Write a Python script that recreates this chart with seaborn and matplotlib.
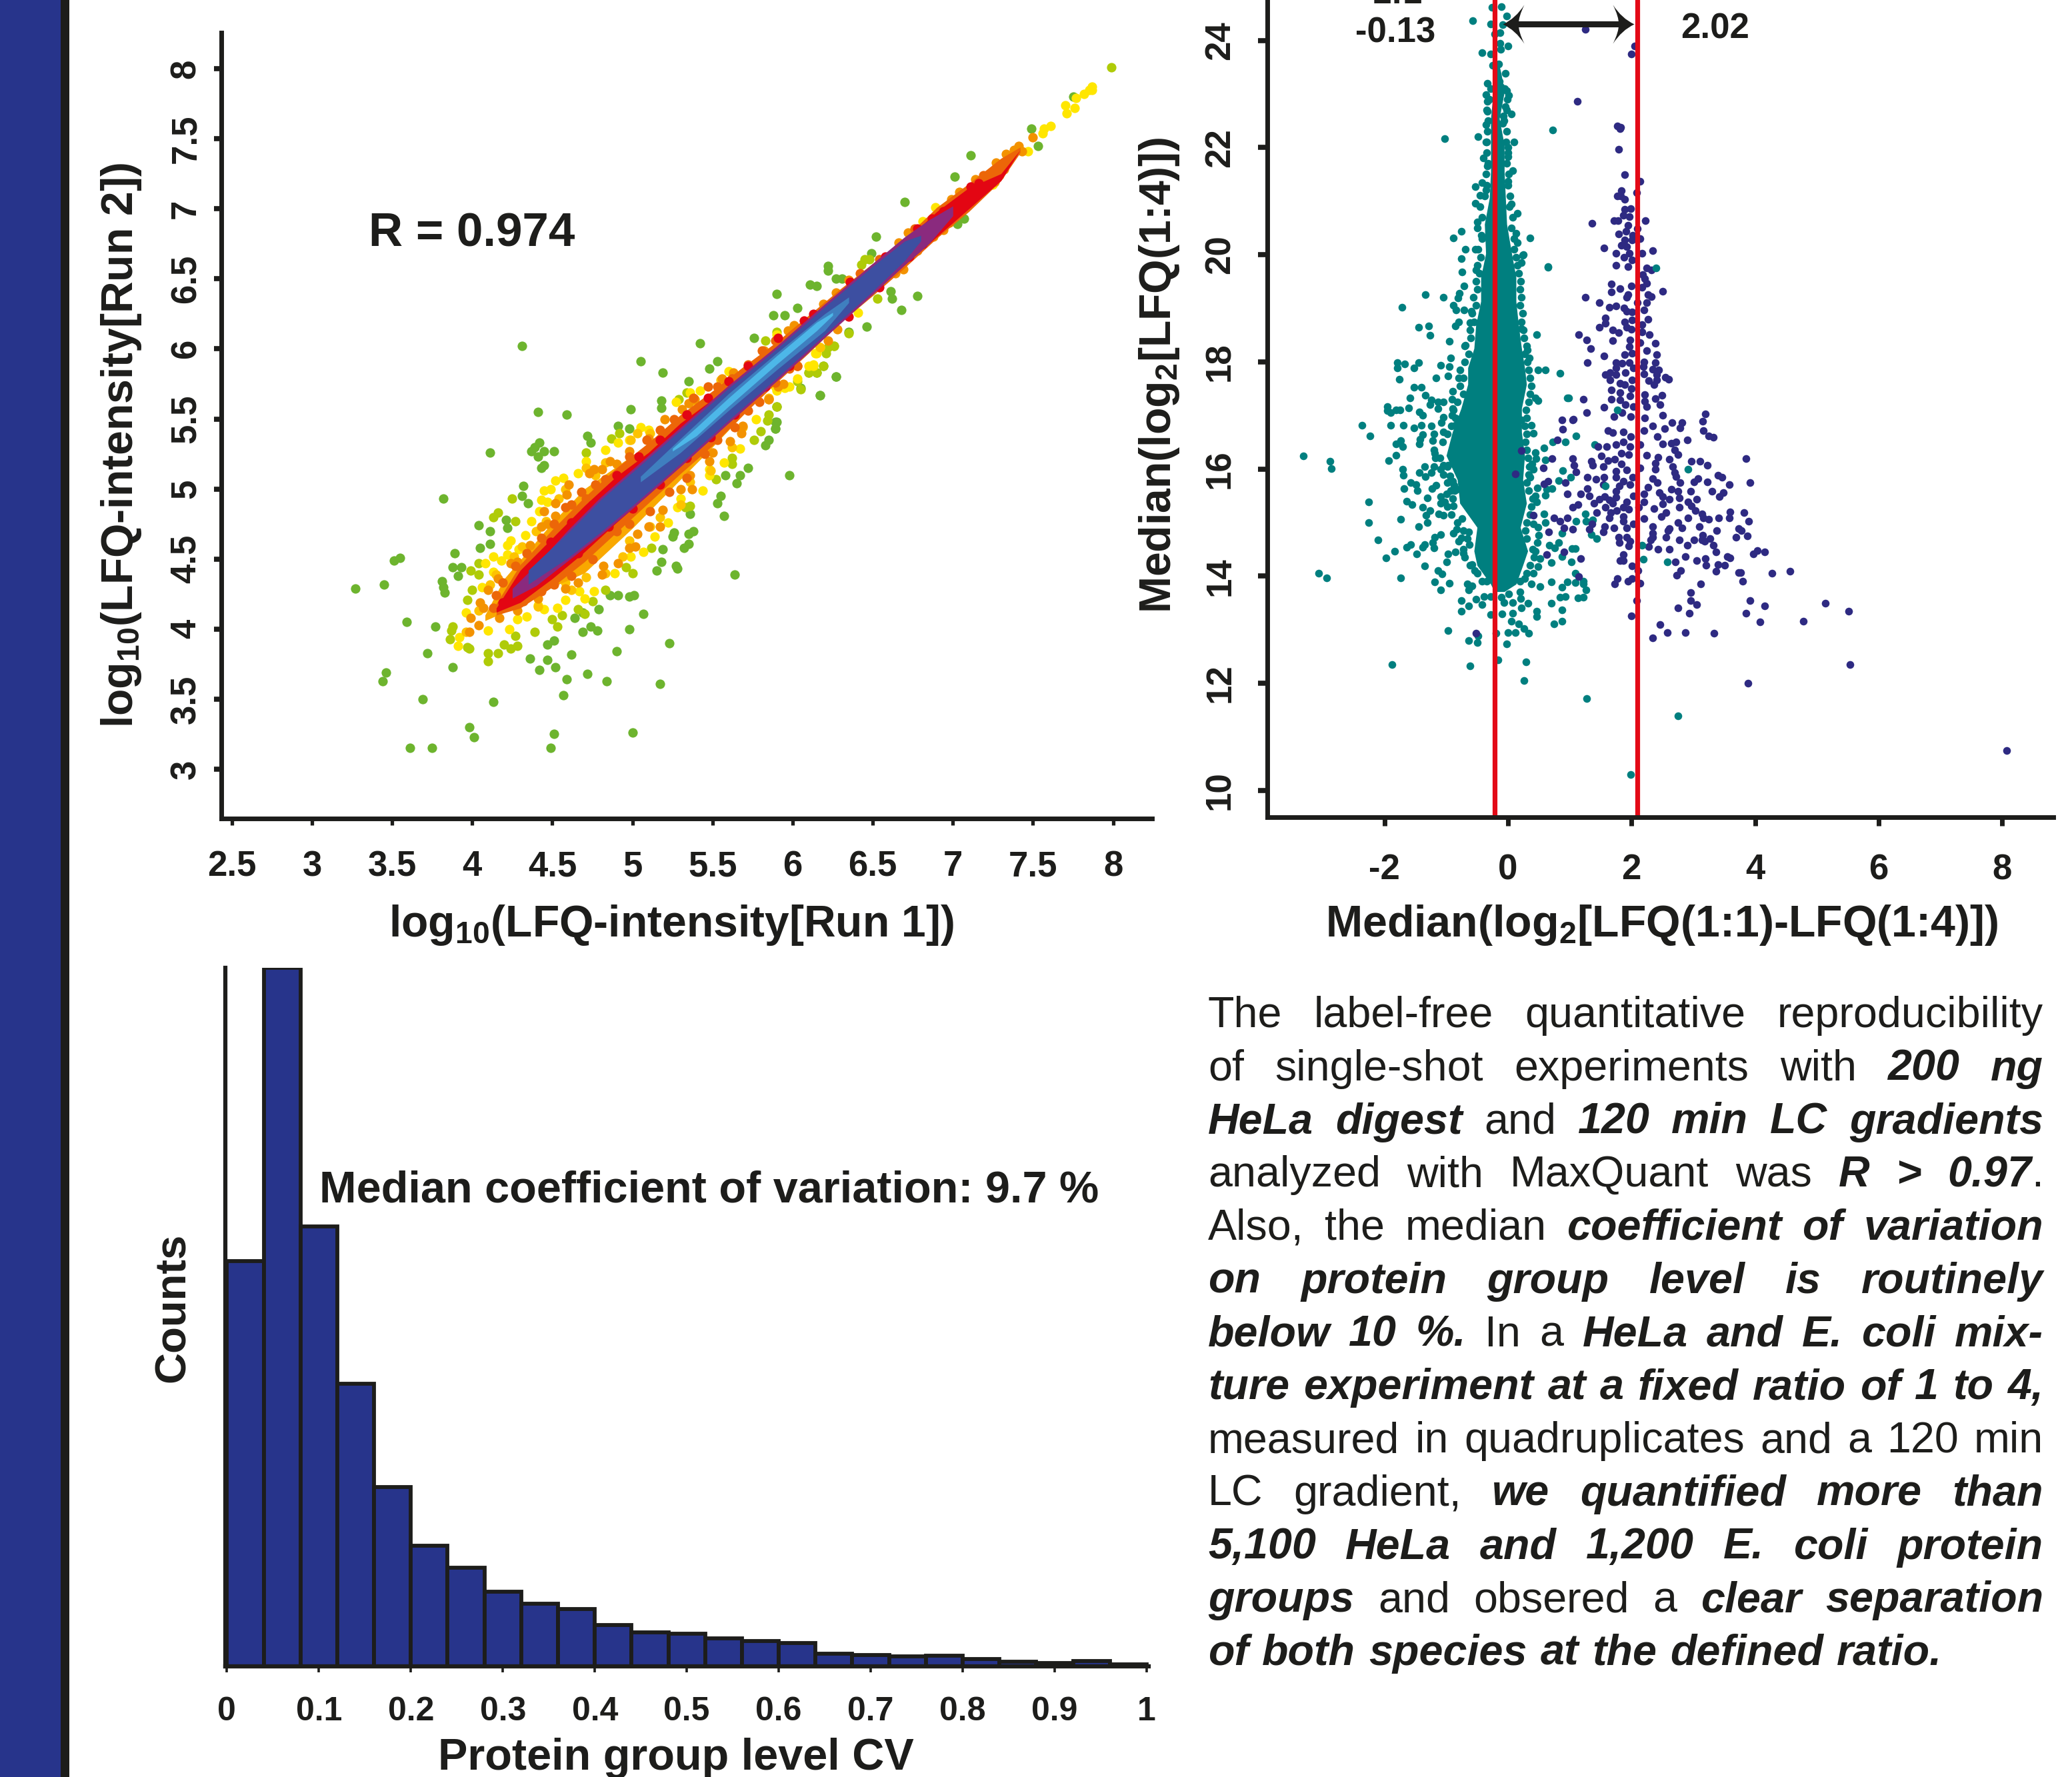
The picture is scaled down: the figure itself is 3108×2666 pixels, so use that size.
import matplotlib
matplotlib.use("Agg")
import matplotlib.pyplot as plt
from matplotlib.patches import Rectangle
from matplotlib.path import Path
import numpy as np
import pandas as pd
import seaborn as sns

# --- panel A: run 1 vs run 2, coloured by density class
run_green = [(4.31,6.02),(4.41,5.55),(4.59,5.53),(4.11,5.26),(4.39,5.30),(4.42,5.33),(4.37,5.27),(4.41,5.23),(4.45,5.27),(4.51,5.27),
    (4.43,5.15),(4.45,5.17),(4.72,5.38),(4.74,5.33),(3.82,4.93),(5.05,5.91),(5.19,5.83),(5.35,5.77),(5.42,6.04),(5.48,5.86),
    (5.53,5.91),(4.99,5.57),(5.18,5.63),(5.18,5.58),(4.91,5.45),(4.98,5.43),(5.76,6.08),(6.27,5.80),(6.17,5.67),(5.98,5.10),
    (5.72,5.15),(5.67,5.10),(5.58,5.10),(5.65,5.04),(5.55,4.95),(5.53,4.90),(5.57,4.81),(5.89,5.48),(5.89,5.43),(5.85,5.35),
    (5.83,5.31),(5.64,4.39),(5.38,4.70),(5.35,4.68),(5.35,4.61),(5.32,4.58),(5.26,4.69),(5.25,4.66),(5.19,4.57),(5.18,4.48),
    (5.15,4.42),(5.27,4.45),(5.28,4.43),(5.36,4.82),(3.55,4.51),(3.51,4.49),(3.45,4.32),(3.27,4.29),(3.89,4.54),(3.88,4.44),
    (3.93,4.44),(3.91,4.38),(3.81,4.34),(3.82,4.30),(3.83,4.26),(3.59,4.05),(3.77,4.02),(3.72,3.83),(3.88,3.73),(3.46,3.69),
    (3.44,3.63),(3.69,3.50),(4.13,3.48),(3.98,3.30),(4.01,3.23),(3.61,3.15),(3.75,3.15),(4.51,3.25),(4.49,3.15),(5.0,3.26),
    (4.57,3.53),(4.59,3.64),(4.72,3.68),(4.84,3.63),(5.17,3.61),(5.23,3.90),(4.90,3.84),(4.98,4.0),(5.07,4.11),(4.62,3.82),
    (4.52,3.73),(4.47,3.78),(4.42,3.71),(4.36,3.79),(4.51,3.92),(4.47,3.89),(4.69,3.98),(4.74,4.02),(4.78,3.99),(5.01,4.24),
    (4.98,4.23),(4.91,4.24),(4.86,4.24),(4.79,4.14),(4.69,4.12),(4.64,4.08),(4.04,4.74),(4.11,4.70),(4.21,4.78),(4.22,4.72),
    (4.05,4.58),(4.11,4.61),(4.35,4.90),(4.31,4.95),(4.32,5.02),(7.75,7.80),(7.49,7.57),(7.53,7.45),(7.11,7.38),(7.01,7.23),
    (6.70,7.05),(6.52,6.80),(6.49,6.68),(6.22,6.59),(6.22,6.56),(6.27,6.50),(6.31,6.50),(6.11,6.46),(6.15,6.45),(5.90,6.39),
    (6.03,6.29),(5.88,6.24),(5.95,6.24),(6.61,6.41),(6.62,6.36),(6.78,6.38),(6.68,6.28),(6.46,6.16),(6.35,6.12),(6.27,5.80),
    (6.17,5.67),(7.03,6.89),(7.07,6.93),(6.19,5.88),(6.15,5.83),(6.05,5.72),(5.90,5.59),(5.90,5.48),(5.89,5.43)]
run_lime = [(4.25,4.93),(4.27,4.77),(4.13,4.80),(4.16,4.83),(3.99,4.42),(4.04,4.39),(4.04,4.47),(4.0,4.28),(3.97,4.21),(3.88,4.02),
    (3.87,3.99),(3.86,3.93),(3.98,3.86),(3.97,3.87),(4.10,3.83),(4.10,3.77),(4.16,3.83),(4.20,3.89),(4.24,3.86),(4.28,3.88),
    (4.27,3.95),(4.39,3.98),(4.53,4.02),(4.50,4.07),(4.56,4.10),(4.70,4.11),(4.66,4.14),(4.75,4.20),(4.83,4.28),(4.96,4.44),
    (5.0,4.40),(5.12,4.58),(5.36,4.88),(5.33,4.87),(4.87,5.36),(4.92,5.40),(4.71,5.26),(5.34,5.69),(5.29,5.64),(5.52,5.07),
    (5.62,5.18),(5.62,5.22),(5.76,5.35),(5.80,5.41),(5.84,5.49),(5.90,5.59),(5.85,5.53),(6.05,5.71),(6.15,5.83),(6.10,5.83),
    (6.19,5.88),(5.83,6.06),(6.35,6.11),(6.26,6.02),(7.99,8.01),(6.43,6.60),(6.45,6.64),(6.48,6.64),(6.53,6.36),(5.90,6.12),
    (6.26,6.02),(6.21,5.97),(6.22,6.01),(6.10,5.83),(6.03,5.77)]
run_yellow = [(4.83,5.28),(4.91,5.33),(4.98,5.35),(5.05,5.44),(4.71,5.20),(4.66,5.11),(4.52,5.06),(4.49,5.0),(4.57,5.08),(4.45,4.99),
    (4.43,4.92),(4.47,4.91),(4.42,4.84),(4.37,4.77),(4.33,4.67),(4.24,4.63),(4.22,4.60),(4.29,4.57),(4.22,4.53),(4.13,4.52),
    (4.08,4.47),(4.18,4.49),(4.13,4.41),(4.06,4.30),(3.96,4.12),(3.92,3.94),(3.91,3.88),(4.10,3.99),(4.23,4.0),(4.28,4.07),
    (4.34,4.09),(4.41,4.17),(4.45,4.14),(4.53,4.15),(4.58,4.21),(4.67,4.27),(4.70,4.22),(4.76,4.27),(4.89,4.40),(4.99,4.52),
    (5.07,4.55),(5.14,4.66),(5.22,4.76),(5.28,4.87),(5.30,4.93),(5.44,4.99),(5.48,5.14),(5.48,5.10),(5.57,5.19),(5.67,5.29),
    (5.77,5.50),(6.10,5.88),(6.03,5.79),(5.98,5.73),(6.13,5.88),(6.15,5.97),(5.42,5.70),(5.36,5.69),(5.10,5.42),(5.27,5.62),
    (5.89,5.73),(5.60,5.84),(5.90,6.10),(6.89,7.01),(6.81,6.91),(6.41,6.26),(6.17,6.01),(6.14,5.97),(6.13,5.89),(5.95,5.72),
    (5.90,5.70),(7.25,7.17),(7.47,7.41),(7.61,7.59),(7.57,7.57),(7.56,7.54),(7.71,7.68),(7.70,7.74),(7.77,7.79),(7.76,7.72),
    (7.82,7.82),(7.85,7.85),(7.87,7.87),(7.87,7.85)]
run_amber = [(4.71,5.15),(4.77,5.10),(4.58,5.0),(4.54,4.93),(4.46,4.77),(4.40,4.70),(4.31,4.59),(4.26,4.52),(4.15,4.39),(4.11,4.32),
    (4.04,4.13),(3.96,3.98),(4.28,4.19),(4.41,4.16),(4.58,4.33),(4.62,4.28),(4.71,4.37),(4.83,4.40),(4.94,4.52),(4.98,4.63),
    (5.11,4.73),(5.17,4.80),(5.30,4.89),(5.36,5.05),(5.49,5.13),(5.62,5.30),(5.69,5.44),(5.85,5.65),(5.03,5.40),(5.11,5.40),
    (4.99,5.35),(4.83,5.19),(5.38,5.63),(5.55,5.78),(6.17,6.01)]
run_orange = [(4.76,5.14),(4.73,5.11),(4.81,5.14),(4.86,5.20),(4.90,5.18),(4.60,5.03),(4.52,4.90),(4.59,4.96),(4.45,4.84),(4.52,4.81),
    (4.43,4.73),(4.47,4.75),(4.36,4.60),(4.28,4.48),(4.24,4.47),(4.16,4.36),(4.10,4.28),(4.05,4.19),(4.07,4.15),(3.99,4.08),
    (3.98,3.98),(4.04,4.03),(4.17,4.08),(4.28,4.13),(4.41,4.22),(4.58,4.29),(4.66,4.33),(4.81,4.39),(4.82,4.45),(4.91,4.47),
    (4.98,4.58),(5.02,4.59),(5.03,4.68),(5.10,4.73),(5.17,4.73),(5.19,4.85),(5.30,5.0),(5.36,5.10),(5.37,5.0),(5.50,5.26),
    (5.48,5.20),(5.68,5.40),(5.69,5.45),(5.61,5.34),(5.85,5.64),(5.94,5.75),(5.39,5.64),(5.35,5.61),(5.31,5.57),(5.20,5.50),
    (5.10,5.36),(4.98,5.27),(5.56,5.79),(5.63,5.83),(5.82,5.99),(6.03,5.88),(6.94,6.85),(6.88,6.80),(6.98,6.90),(6.78,6.70),
    (6.69,6.57),(6.64,6.54),(6.66,6.76),(6.72,6.83),(6.35,6.49),(6.28,6.14),(6.22,6.06),(6.03,5.88),(5.85,5.64),(5.91,5.73),
    (7.50,7.51),(7.26,7.19),(7.04,7.12),(6.99,7.07),(7.14,7.21),(7.29,7.24),(7.32,7.28),(7.33,7.39),(7.27,7.33),(7.41,7.45),
    (7.43,7.41),(7.38,7.42),(7.36,7.37),(6.01,6.17),(5.97,6.13),(6.19,6.32),(6.27,6.40)]
run_deep = [(4.68,4.98),(4.71,4.93),(4.62,4.89),(4.58,4.87),(4.51,4.75),(4.43,4.65),(4.34,4.54),(4.27,4.45),(4.19,4.33),(4.15,4.24),
    (4.77,5.03),(4.83,5.07),(4.98,5.23),(5.09,5.35),(5.17,5.42),(5.26,5.50),(5.38,5.65),(5.47,5.73),(5.53,5.73),(5.62,5.79),
    (5.72,5.89),(5.81,5.99),(5.89,6.06),(4.13,4.15),(4.22,4.17),(4.32,4.20),(4.43,4.27),(4.51,4.32),(4.62,4.38),(4.75,4.50),
    (4.90,4.70),(4.98,4.75),(5.11,4.84),(5.23,4.98),(5.34,5.08),(5.45,5.25),(5.53,5.35),(5.64,5.44),(5.72,5.56),(5.79,5.62),
    (5.89,5.76),(6.03,5.88),(5.98,5.86),(6.42,6.54),(6.54,6.64),(6.76,6.86),(6.92,6.98),(7.05,6.98),(7.19,7.24),(7.24,7.26),(7.31,7.31)]
run_red = [(4.49,4.62),(4.62,4.76),(4.75,4.89),(4.90,5.10),(5.04,5.23),(5.17,5.35),(5.34,5.53),(5.47,5.65),(5.60,5.77),(5.72,5.88),
    (5.91,6.08),(4.19,4.19),(4.34,4.29),(4.49,4.43),(4.66,4.54),(4.85,4.73),(5.00,4.86),(5.17,5.03),(5.34,5.22),(5.49,5.37),
    (5.64,5.53),(5.83,5.73),(5.98,5.88),(6.81,6.75),(6.73,6.66),(6.54,6.44),(6.35,6.23),(6.13,6.25),(6.07,6.20),(6.36,6.48),
    (6.58,6.66),(6.78,6.86),(6.87,6.93),(6.94,6.98),(7.01,7.02),(7.08,7.04),(7.11,7.16),(7.16,7.18)]

# density envelopes of the core, as y range at given x
orange_x = [4.08,4.2,4.5,4.7,5.0,5.5,5.9,6.0]
orange_lo = [4.06,4.12,4.30,4.40,4.72,5.30,5.78,5.94]
orange_hi = [4.10,4.36,4.76,5.00,5.24,5.62,5.98,6.06]
core_x = [4.15,4.3,4.5,4.7,4.9,5.1,5.3,5.5,5.7,5.9,6.1,6.3,6.5,6.7,6.9,7.1,7.3,7.42]
deep_lo = [4.10,4.15,4.30,4.48,4.69,4.90,5.11,5.31,5.54,5.76,5.97,6.19,6.38,6.58,6.79,6.98,7.20,7.40]
deep_hi = [4.18,4.46,4.71,4.94,5.15,5.33,5.53,5.70,5.88,6.05,6.24,6.43,6.61,6.79,7.01,7.18,7.36,7.44]
red_lo = [4.12,4.19,4.36,4.55,4.76,4.96,5.17,5.37,5.59,5.81,6.00,6.22,6.40,6.60,6.80,7.00,7.20,7.42]
red_hi = [4.15,4.42,4.65,4.88,5.09,5.26,5.47,5.64,5.83,6.00,6.20,6.40,6.58,6.77,6.98,7.15,7.25,7.42]
purple_x = [4.25,4.4,4.6,4.8,5.0,5.3,5.6,5.9,6.2,6.5,6.7,6.85,7.0]
purple_lo = [4.22,4.31,4.49,4.67,4.86,5.16,5.47,5.77,6.08,6.39,6.60,6.75,6.95]
purple_hi = [4.29,4.46,4.71,4.94,5.14,5.44,5.74,6.02,6.32,6.61,6.80,6.92,7.02]
blue_x = [4.35,4.6,4.8,5.0,5.3,5.6,5.9,6.2,6.5,6.7,6.8]
blue_lo = [4.32,4.51,4.69,4.88,5.18,5.49,5.79,6.10,6.41,6.63,6.77]
blue_hi = [4.42,4.69,4.92,5.12,5.42,5.72,6.00,6.30,6.59,6.77,6.81]
mid_x = [5.05,5.3,5.6,5.9,6.2,6.35]
mid_lo = [5.05,5.26,5.56,5.85,6.13,6.33]
mid_hi = [5.09,5.36,5.68,5.97,6.25,6.37]
light_x = [5.25,5.4,5.6,5.9,6.15,6.25]
light_lo = [5.27,5.38,5.59,5.89,6.13,6.24]
light_hi = [5.29,5.44,5.65,5.95,6.19,6.26]

# --- panel B: HeLa / E. coli mixture
hela_pts = [(-0.57,24.37),(-0.28,24.30),(-0.26,24.61),(-0.11,24.63),(-0.02,24.45),(-0.09,24.29),(-0.13,24.14),(-0.21,24.12),(-0.13,23.94),(0.0,23.89),
    (-0.12,23.83),(-0.42,23.77),(-0.28,23.75),(-0.15,23.56),(-0.25,23.53),(-0.04,23.39),(-0.33,23.20),(-0.14,23.23),(-0.12,23.13),(-0.36,22.99),
    (-0.02,23.06),(0.01,22.97),(-0.33,22.86),(-0.04,22.76),(0.05,22.63),(-0.33,22.68),(-0.07,22.59),(-0.36,22.43),(-0.09,22.45),(0.72,22.33),
    (-1.02,22.16),(-0.48,22.20),(0.10,22.10),(-0.36,22.10),(0.0,22.0),(-0.40,21.80),(0.0,21.83),(-0.33,21.65),(0.08,21.57),(0.0,21.37),
    (-0.42,21.34),(-0.53,21.27),(-0.36,21.21),(-0.45,21.11),(-0.53,20.96),(0.05,20.94),(0.15,20.77),(-0.50,20.61),(-0.76,20.43),(-0.88,20.31),
    (0.36,20.31),(-0.43,20.36),(-0.69,20.10),(-0.53,20.10),(0.13,20.4),(0.15,20.23),(0.25,20.0),(0.65,19.77),
    (-0.76,19.93),(-0.74,19.68),(-0.52,19.72),(-0.71,19.42),(-1.34,19.25),(-1.05,19.20),(-0.79,19.28),(-0.81,19.19),(-1.72,19.02),(-0.88,19.06),
    (-0.84,18.97),(-0.71,18.97),(-0.59,18.94),(0.65,19.78),(0.22,19.85),(0.24,19.99),(-1.45,18.64),(-1.28,18.67),(-1.26,18.49),(-0.85,18.67),
    (-0.80,18.74),(-0.61,18.73),(-0.95,18.38),(-0.69,18.31),(0.47,18.51),(0.22,18.62),(0.31,18.22),(0.35,18.07),(-1.79,17.99),(-1.67,17.96),
    (-1.45,17.99),(-1.79,17.88),(-1.52,17.88),(-1.76,17.68),(-1.09,17.94),(-0.95,17.91),(-0.93,18.07),(-1.16,17.70),(-0.97,17.73),(-0.80,17.70),
    (0.49,17.85),(0.60,17.85),(0.84,17.78),(-1.52,17.53),(-1.40,17.53),(-0.90,17.45),(-1.59,17.33),(-1.34,17.38),(-1.24,17.29),(-1.13,17.25),
    (-1.05,17.25),(-0.91,17.30),(-1.26,17.20),(0.96,17.33),(0.44,17.33),(0.49,17.27),(-1.95,17.16),(-1.95,17.09),(-1.90,17.05),(-1.81,17.10),
    (-1.75,17.10),(-1.61,17.14),(-1.43,17.06),(-1.38,17.0),(-1.13,17.13),(-0.90,17.13),(-2.36,16.82),(-1.90,16.82),(-1.69,16.82),(-1.52,16.77),
    (-1.40,16.82),(-2.23,16.62),(-1.24,16.80),(-1.08,16.87),(-1.05,16.96),(-0.91,17.0),(-0.85,16.82),(0.38,16.82),(0.41,16.67),(0.22,16.91),
    (-1.38,16.64),(-1.74,16.53),(-1.81,16.47),(-1.71,16.42),(-1.42,16.56),(-1.43,16.47),(-1.20,16.65),(-1.05,16.69),(-1.22,16.53),(1.10,16.62),
    (0.72,16.51),(0.93,16.51),(0.58,16.39),(0.44,16.31),(1.40,16.45),(-1.81,16.26),(-3.31,16.24),(-2.88,16.14),(-2.86,16.01),(-1.93,16.16),
    (-1.19,16.29),(-1.10,16.20),(0.60,16.17),(0.45,16.19),(0.39,16.10),(-1.35,16.05),(-1.71,15.99),(-1.43,15.93),(-1.20,16.05),(-1.05,16.07),
    (-0.97,16.07),(-1.24,15.93),(-1.09,15.99),(0.41,15.99),(0.89,15.97),(-1.69,15.88),(-1.34,15.86),(-0.94,15.87),(0.36,15.85),(0.82,15.78),
    (1.02,15.85),(-1.57,15.74),(-1.49,15.71),(-1.16,15.69),(-0.90,15.77),(-0.87,15.69),(-1.68,15.63),(-1.47,15.60),(-1.23,15.63),(-0.83,15.62),
    (-0.93,15.60),(0.71,15.63),(0.63,15.62),(0.48,15.65),(0.44,15.50),(0.60,15.51),(-1.31,15.46),(-1.09,15.49),(-0.99,15.54),(-2.26,15.38),
    (-1.64,15.40),(-1.55,15.34),(-1.09,15.36),(-1.02,15.38),(-0.88,15.31),(0.46,15.38),(-1.38,15.28),(-1.26,15.22),(-1.12,15.16),(-1.05,15.13),
    (-1.33,15.13),(-1.74,15.06),(-2.26,15.0),(-1.31,15.0),(-1.45,14.93),(-0.74,15.07),(0.58,15.16),(1.25,15.16),(1.10,15.02),(1.26,15.03),
    (0.60,15.0),(0.41,14.98),(0.49,14.91),(1.37,15.05),(-0.88,14.80),(-0.83,14.87),(-1.09,14.77),(-1.19,14.73),(-0.64,14.82),(-2.10,14.67),
    (-0.80,14.65),(-0.75,14.71),(-1.22,14.62),(-1.35,14.59),(-1.38,14.54),(-1.57,14.59),(-1.64,14.54),(-1.20,14.53),(-0.63,14.59),(-1.83,14.47),
    (-1.48,14.42),(-1.97,14.34),(-0.97,14.42),(-0.85,14.45),(-0.72,14.43),(0.50,14.76),(0.48,14.62),(0.67,14.58),(0.82,14.62),(0.76,14.53),
    (1.04,14.52),(1.09,14.52),(1.35,14.78),(1.44,14.70),(0.87,14.80),(0.44,14.47),(0.52,14.33),(0.87,14.37),(0.70,14.25),(1.03,14.27),
    (-0.99,14.27),(-1.35,14.19),(-0.58,14.22),(-0.54,14.10),(-1.13,14.10),(-1.07,14.04),(-3.07,14.05),(-2.93,13.97),(-1.74,13.97),(-0.42,13.91),
    (-1.19,13.89),(-0.95,13.87),(-0.66,13.85),(-0.58,13.82),(-1.09,13.74),(-0.64,13.74),(0.49,14.18),(0.41,14.05),(0.27,13.96),(0.70,13.89),
    (0.96,13.89),(1.09,14.05),(1.22,13.91),(1.22,13.86),(1.09,13.88),(0.52,13.80),(0.38,13.85),(0.87,13.79),(1.26,13.74),(0.19,13.71),
    (0.84,13.61),(0.93,13.62),(1.13,13.59),(1.22,13.61),(-0.39,13.62),(-0.28,13.62),(-0.11,13.60),(0.01,13.67),(0.21,13.58),(-0.76,13.54),
    (-0.52,13.57),(-0.42,13.47),(-0.64,13.44),(-0.06,13.51),(0.08,13.51),(0.32,13.49),(0.70,13.49),(0.22,13.41),(0.87,13.37),(-0.76,13.34),
    (-0.28,13.28),(-0.10,13.29),(0.08,13.31),(0.47,13.34),(0.47,13.25),(0.87,13.16),(0.74,13.11),(0.05,13.16),(0.17,13.11),(-0.97,12.98),
    (-0.64,12.80),(-0.50,12.76),(-0.49,12.89),(-0.02,12.73),(0.0,12.95),(0.12,12.95),(0.34,12.93),(0.26,13.02),(-0.19,12.93),(-1.88,12.35),
    (-0.62,12.33),(-0.16,12.43),(0.29,12.40),(0.26,12.05),(1.27,11.72),(2.75,11.39),(1.99,10.30)]
# few HeLa points that sit on top of the E. coli cloud
hela_top_pts = [(2.91,15.99),(1.58,15.68),(1.77,17.10),(2.17,14.58),(2.19,14.31),(2.58,14.27),(2.40,19.75),(0.98,17.33)]
# dense HeLa column, x range at given y
hela_y = [13.71,13.85,14.20,14.47,14.91,15.36,15.80,16.25,16.69,17.13,17.58,17.89,18.25,18.69,19.13,19.58,20.02,20.57,21.06,21.55,22.05,22.54,23.03,23.38,23.57]
hela_lo = [-0.22,-0.28,-0.50,-0.55,-0.50,-0.78,-0.82,-1.0,-0.90,-0.76,-0.65,-0.65,-0.55,-0.52,-0.44,-0.44,-0.36,-0.38,-0.30,-0.28,-0.28,-0.28,-0.24,-0.21,-0.21]
hela_hi = [-0.06,0.13,0.24,0.32,0.20,0.30,0.24,0.27,0.22,0.22,0.30,0.27,0.22,0.17,0.13,0.13,0.06,-0.02,-0.04,-0.06,-0.06,-0.14,-0.06,-0.11,-0.15]
# ragged rim of that column
rim_y = [13.9,14.05,14.2,14.35,14.5,14.7,14.85,15.0,15.15,15.3,15.45,15.6,15.75,15.9,16.05,16.2,16.35,16.5,16.65,16.8,16.95,17.1,17.25,17.4,17.55,17.7,17.85,18.0,18.15,18.3,
    18.45,18.6,18.75,18.9,19.05,19.2,19.35,19.5,19.65,19.8,19.95,20.1,20.3,20.5,20.7,20.9,21.1,21.3,21.5,21.7,21.9,22.1,22.3,22.5,22.7,22.9,23.1]
rim_left = [-0.35,-0.5,-0.62,-0.7,-0.72,-0.66,-0.72,-0.82,-0.92,-0.98,-0.9,-0.86,-0.98,-1.05,-0.98,-1.18,-1.2,-1.06,-0.98,-0.92,-0.85,-0.88,-0.82,-0.72,-0.78,-0.72,-0.78,-0.7,-0.64,-0.7,
    -0.6,-0.62,-0.55,-0.58,-0.52,-0.56,-0.5,-0.52,-0.46,-0.5,-0.44,-0.48,-0.42,-0.5,-0.42,-0.45,-0.38,-0.34,-0.36,-0.32,-0.35,-0.34,-0.33,-0.32,-0.34,-0.3,-0.28]
rim_right = [0.2,0.3,0.36,0.42,0.4,0.3,0.28,0.3,0.36,0.38,0.4,0.34,0.3,0.33,0.35,0.32,0.3,0.28,0.3,0.27,0.3,0.29,0.33,0.36,0.38,0.36,0.34,0.31,0.27,0.3,
    0.26,0.25,0.22,0.24,0.2,0.22,0.2,0.21,0.17,0.15,0.13,0.1,0.1,0.05,0.08,0.02,0.03,0.0,0.01,-0.02,0.0,-0.03,-0.02,-0.06,-0.02,-0.01,-0.05]

ecoli_pts = [(1.25,24.2),(2.05,23.89),(2.0,23.75),(1.12,22.86),(1.77,22.40),(1.83,22.38),(1.81,22.35),(1.79,21.97),(1.89,21.49),(2.14,21.37),
    (1.84,21.19),(2.08,21.16),(1.77,21.09),(1.83,21.09),(1.89,21.03),(1.89,20.85),(1.99,20.86),(1.87,20.74),(1.97,20.71),(1.72,20.63),
    (1.78,20.63),(2.22,20.63),(1.36,20.58),(1.94,20.55),(2.10,20.48),(1.91,20.44),(1.79,20.38),(2.02,20.36),(2.01,20.28),(2.14,20.30),
    (1.89,20.27),(1.55,20.13),(1.84,20.18),(1.92,20.15),(1.75,20.03),(1.97,20.02),(2.17,20.03),(2.34,20.08),(1.88,19.95),(2.01,19.90),
    (1.75,19.80),(1.94,19.78),(2.25,19.75),(2.32,19.72),(2.18,19.63),(2.21,19.55),(2.25,19.47),(1.67,19.45),(2.0,19.41),(2.17,19.39),
    (1.81,19.37),(1.67,19.30),(2.51,19.32),(1.94,19.26),(2.27,19.25),(2.32,19.22),(1.25,19.20),(1.92,19.21),(1.48,19.10),(2.25,19.10),
    (2.10,19.10),(1.64,19.02),(1.75,19.04),(1.88,19.01),(1.92,18.94),(2.01,18.93),(2.20,18.97),(1.58,18.82),(2.27,18.79),(2.01,18.78),
    (1.89,18.74),(1.58,18.72),(2.17,18.69),(1.48,18.64),(1.92,18.65),(1.69,18.59),(2.0,18.61),(2.17,18.56),(1.79,18.54),(1.15,18.51),
    (2.29,18.51),(1.27,18.41),(1.69,18.39),(1.98,18.41),(2.14,18.36),(2.39,18.34),(1.34,18.24),(1.96,18.28),(2.25,18.21),(1.55,18.11),
    (1.89,18.14),(2.41,18.14),(2.01,18.16),(1.29,17.98),(1.75,17.98),(1.85,17.97),(1.96,17.99),(2.20,18.0),(2.39,17.99),(1.75,17.89),
    (2.03,17.89),(2.19,17.91),(2.34,17.86),(2.44,17.85),(1.58,17.76),(1.65,17.80),(1.75,17.76),(1.90,17.80),(2.20,17.77),(2.41,17.76),
    (1.65,17.66),(2.55,17.71),(2.60,17.68),(2.01,17.66),(1.81,17.60),(1.89,17.58),(2.28,17.65),(2.41,17.66),(2.36,17.58),(2.0,17.50),
    (1.67,17.47),(1.81,17.42),(2.21,17.39),(2.49,17.38),(1.98,17.36),(1.22,17.30),(1.67,17.30),(2.39,17.31),(1.81,17.29),(2.21,17.26),
    (2.46,17.20),(1.55,17.15),(1.90,17.20),(2.03,17.16),(2.25,17.17),(1.27,17.05),(1.72,16.98),(1.85,17.05),(2.51,17.0),(3.2,17.03),
    (1.99,16.98),(2.21,16.95),(1.06,16.93),(3.15,16.89),(2.82,16.87),(2.66,16.87),(2.79,16.76),(3.16,16.72),(3.25,16.62),(3.32,16.59),
    (2.54,16.75),(2.34,16.80),(2.20,16.71),(2.42,16.60),(2.90,16.54),(2.72,16.51),(2.64,16.48),(2.51,16.47),(0.87,16.92),(1.05,16.92),
    (0.89,16.74),(0.80,16.54),(1.62,16.71),(1.69,16.68),(1.87,16.69),(1.99,16.60),(1.87,16.51),(1.46,16.42),(1.60,16.42),(1.75,16.45),
    (1.98,16.42),(2.14,16.45),(0.22,16.34),(0.71,16.19),(1.05,16.19),(1.51,16.24),(1.73,16.18),(1.84,16.29),(1.95,16.27),(2.25,16.25),
    (2.43,16.22),(2.70,16.36),(2.75,16.27),(2.61,16.18),(2.97,16.14),(3.11,16.14),(3.23,16.07),(3.85,16.19),(1.35,16.14),(1.37,16.07),
    (1.07,16.07),(1.54,16.04),(1.62,16.16),(1.84,16.09),(1.92,15.98),(2.14,16.02),(2.39,16.00),(2.67,16.05),(2.39,16.11),(0.57,16.02),
    (0.12,15.91),(1.10,15.94),(1.75,15.96),(2.70,15.93),(2.72,15.86),(3.40,15.88),(3.47,15.84),(1.28,15.85),(1.42,15.81),(1.55,15.84),
    (1.75,15.85),(2.02,15.85),(2.34,15.82),(3.08,15.82),(3.01,15.76),(3.23,15.76),(0.93,15.74),(0.65,15.77),(0.58,15.72),(1.87,15.77),
    (1.98,15.71),(2.42,15.74),(2.79,15.74),(3.58,15.71),(3.92,15.74),(1.29,15.63),(1.54,15.71),(1.80,15.68),(2.27,15.66),(2.64,15.62),
    (2.96,15.59),(2.75,15.59),(3.30,15.59),(0.96,15.53),(1.18,15.53),(1.32,15.50),(1.75,15.58),(2.20,15.53),(2.45,15.56),(3.49,15.56),
    (3.42,15.49),(1.57,15.49),(1.48,15.44),(1.75,15.47),(2.03,15.50),(2.50,15.49),(2.78,15.46),(3.06,15.43),(1.64,15.42),(2.61,15.43),
    (1.39,15.36),(1.69,15.36),(1.92,15.38),(2.20,15.38),(2.50,15.35),(2.92,15.38),(1.13,15.34),(1.05,15.28),(1.58,15.28),(1.87,15.29),
    (2.78,15.29),(2.97,15.31),(2.12,15.29),(2.36,15.26),(1.76,15.22),(1.95,15.25),(3.03,15.22),(3.60,15.20),(3.82,15.18),(1.44,15.18),
    (1.66,15.18),(2.56,15.18),(3.14,15.16),(0.41,15.13),(2.48,15.11),(1.87,15.11),(2.92,15.09),(1.64,15.08),(2.20,15.07),(3.16,15.09),
    (3.25,15.06),(3.41,15.08),(3.58,15.08),(0.96,15.08),(0.75,15.08),(0.84,15.02),(3.90,15.02),(1.36,14.97),(1.57,14.93),(1.87,15.02),
    (2.75,15.0),(2.03,14.98),(2.34,14.93),(0.91,14.90),(1.05,14.88),(1.32,14.88),(1.72,14.90),(1.92,14.90),(2.61,14.89),(2.82,14.90),
    (3.10,14.92),(3.74,14.89),(0.66,14.82),(1.54,14.82),(2.34,14.80),(2.59,14.85),(3.38,14.85),(3.78,14.85),(1.92,14.73),(1.79,14.73),
    (2.34,14.73),(2.56,14.73),(3.15,14.76),(3.27,14.70),(3.69,14.73),(3.88,14.75),(2.78,14.68),(3.01,14.67),(3.14,14.67),(1.80,14.62),
    (1.98,14.65),(2.31,14.67),(3.19,14.65),(2.90,14.57),(3.33,14.58),(1.95,14.56),(2.28,14.55),(2.43,14.50),(2.61,14.50),(3.37,14.45),
    (3.97,14.42),(4.04,14.48),(4.16,14.45),(1.87,14.40),(0.91,14.45),(0.63,14.40),(2.87,14.37),(1.18,14.33),(3.55,14.37),(3.59,14.34),
    (1.81,14.29),(1.87,14.29),(2.71,14.27),(3.06,14.29),(3.20,14.33),(3.21,14.20),(3.40,14.22),(3.51,14.20),(2.01,14.19),(2.11,14.10),
    (2.80,14.10),(3.37,14.09),(3.73,14.07),(3.77,14.07),(4.57,14.09),(4.28,14.05),(2.73,14.02),(1.15,13.99),(1.77,13.95),(2.01,13.95),
    (1.94,13.90),(3.80,13.91),(1.73,13.85),(2.14,13.87),(3.12,13.86),(2.96,13.69),(2.96,13.54),(2.08,13.54),(3.92,13.54),(3.06,13.47),
    (4.16,13.44),(2.75,13.41),(2.94,13.31),(3.85,13.31),(2.0,13.26),(4.78,13.16),(4.08,13.14),(2.46,13.10),(2.34,12.85),(2.58,12.95),
    (2.87,12.95),(3.34,12.93),(3.89,12.0),(5.54,12.35),(5.52,13.34),(5.14,13.49),(-0.52,12.93),(8.07,10.74)]

median_lines = [-0.22, 2.10]
arrow_ends = [0.09, 1.87]
arrow_level = 24.3

# --- panel C: histogram of CV, bar heights read in relative counts
bin_edges = [0,0.04,0.08,0.12,0.16,0.2,0.24,0.28,0.32,0.36,0.4,0.44,0.48,0.52,0.56,0.6,0.64,0.68,0.72,0.76,0.8,0.84,0.88,0.92,0.96,1.0]
bar_heights = [778,1341,845,543,344,231,190,143,120,110,79,65,63,54,48,45,24,22,19,21,14,9,6,10,4]

run_ticks = [2.5,3,3.5,4,4.5,5,5.5,6,6.5,7,7.5,8]
run_tick_labels = ["2.5","3","3.5","4","4.5","5","5.5","6","6.5","7","7.5","8"]
mix_xticks = [-2,0,2,4,6,8]
mix_yticks = [10,12,14,16,18,20,22,24]
cv_ticks = [0,0.1,0.2,0.3,0.4,0.5,0.6,0.7,0.8,0.9,1]
cv_tick_labels = ["0","0.1","0.2","0.3","0.4","0.5","0.6","0.7","0.8","0.9","1"]

# * toggles bold italic
text_lines = [
    "The label-free quantitative reproducibility",
    "of single-shot experiments with *200 ng*",
    "*HeLa digest* and *120 min LC gradients*",
    "analyzed with MaxQuant was *R > 0.97*.",
    "Also, the median *coefficient of variation*",
    "*on protein group level is routinely*",
    "*below 10 %.* In a *HeLa and E. coli mix-*",
    "*ture experiment at a fixed ratio of 1 to 4,*",
    "measured in quadruplicates and a 120 min",
    "LC gradient, *we quantified more than*",
    "*5,100 HeLa and 1,200 E. coli protein*",
    "*groups* and obsered a *clear separation*",
    "*of both species at the defined ratio.*",
]

W, H = 3108, 2666
INK = "#1D1D1B"
NAVY = "#27348B"
TEAL = "#007F7F"
DOT_A = 105
DOT_B = 70

sns.set_style("ticks")
plt.rcParams["font.family"] = ["Liberation Sans", "DejaVu Sans"]
plt.rcParams["mathtext.fontset"] = "custom"
plt.rcParams["mathtext.bf"] = "Liberation Sans:bold"
plt.rcParams["mathtext.rm"] = "Liberation Sans:bold"
plt.rcParams["text.color"] = INK

fig = plt.figure(figsize=(W / 100, H / 100), dpi=100, facecolor="white")


def px_axes(left, top, right, bottom):
    ax = fig.add_axes([left / W, 1 - bottom / H, (right - left) / W, (bottom - top) / H])
    ax.patch.set_alpha(0)
    sns.despine(ax=ax)
    return ax


def put(x, y, s, **kw):
    kw.setdefault("ha", "center")
    kw.setdefault("va", "center")
    kw.setdefault("fontweight", "bold")
    return fig.text(x / W, 1 - y / H, s, **kw)


def style_axis(ax, lw=5, xtick=(7, 3.8), ytick=(8, 5.5), size=38, xpad=27, ypad=18):
    for side in ("left", "bottom"):
        ax.spines[side].set_linewidth(lw)
        ax.spines[side].set_color(INK)
    ax.tick_params(axis="x", length=xtick[0], width=xtick[1], color=INK, pad=xpad, labelsize=size, labelcolor=INK)
    ax.tick_params(axis="y", length=ytick[0], width=ytick[1], color=INK, pad=ypad, labelsize=size, labelcolor=INK)
    for lab in ax.get_xticklabels() + ax.get_yticklabels():
        lab.set_fontweight("bold")


def dots(ax, pts, color, size):
    df = pd.DataFrame(pts, columns=["x", "y"])
    sns.scatterplot(data=df, x="x", y="y", ax=ax, color=color, s=size, linewidth=0, legend=False)


# side stripe
fig.add_artist(Rectangle((0, 0), 91 / W, 1, transform=fig.transFigure, color=NAVY, lw=0))
fig.add_artist(Rectangle((91 / W, 0), 13 / W, 1, transform=fig.transFigure, color=INK, lw=0))

# panel A
ax_a = px_axes(332, 49, 1728, 1228)
dots(ax_a, run_green, "#6DB42E", DOT_A)
dots(ax_a, run_lime, "#AFCB08", DOT_A)
dots(ax_a, run_yellow, "#FFE600", DOT_A)
dots(ax_a, run_amber, "#FDC300", DOT_A)
ax_a.fill_between(orange_x, orange_lo, orange_hi, color="#F9A800", lw=0)
dots(ax_a, run_orange, "#F39200", DOT_A)
dots(ax_a, run_deep, "#EC6608", DOT_A)
ax_a.fill_between(core_x, deep_lo, deep_hi, color="#EC6608", lw=0)
dots(ax_a, run_red, "#E30613", DOT_A)
ax_a.fill_between(core_x, red_lo, red_hi, color="#E30613", lw=0)
ax_a.fill_between(purple_x, purple_lo, purple_hi, color="#8A2A7E", lw=0)
ax_a.fill_between(blue_x, blue_lo, blue_hi, color="#3D4FA1", lw=0)
ax_a.fill_between(mid_x, mid_lo, mid_hi, color="#3F7FBF", lw=0)
ax_a.fill_between(light_x, light_lo, light_hi, color="#4DB7E8", lw=0)
ax_a.set_xlim(2.434, 8.243)
ax_a.set_ylim(2.648, 8.257)
ax_a.set_xticks(run_ticks, run_tick_labels)
ax_a.set_yticks(run_ticks[1:], run_tick_labels[1:])
ax_a.set_xlabel("")
ax_a.set_ylabel("")
style_axis(ax_a, ypad=12)
plt.setp(ax_a.get_yticklabels(), rotation=90, va="center")
put(708, 351, "R = 0.974", fontsize=51)
put(1007, 1388, "log$_{\\mathbf{10}}$(LFQ-intensity[Run 1])", fontsize=47.5)
put(182, 668, "log$_{\\mathbf{10}}$(LFQ-intensity[Run 2])", fontsize=47.5, rotation=90)

# panel B
ax_b = px_axes(1901, 0, 3080, 1226)
ax_b.fill_betweenx(hela_y, hela_lo, hela_hi, color=TEAL, lw=0)
dots(ax_b, list(zip(rim_left, rim_y)), TEAL, DOT_B)
dots(ax_b, list(zip(rim_right, rim_y)), TEAL, DOT_B)
dots(ax_b, hela_pts, TEAL, DOT_B)
dots(ax_b, ecoli_pts, "#2E2A82", DOT_B)
dots(ax_b, hela_top_pts, TEAL, DOT_B)
for v in median_lines:
    ax_b.axvline(v, color="#E30A17", lw=5.2)
ax_b.set_xlim(-3.896, 8.83)
ax_b.set_ylim(9.5, 24.753)
ax_b.set_xticks(mix_xticks, [str(t) for t in mix_xticks])
ax_b.set_yticks(mix_yticks, [str(t) for t in mix_yticks])
ax_b.set_xlabel("")
ax_b.set_ylabel("")
style_axis(ax_b, xtick=(9, 5), ytick=(10, 5.5), xpad=30, ypad=23)
plt.setp(ax_b.get_yticklabels(), rotation=90, va="center")
# double arrow between the medians
ax_b.plot(arrow_ends, [arrow_level, arrow_level], color=INK, lw=6.5, solid_capstyle="butt")
head = Path([(0.55, 0), (-0.1, 0.3), (-0.55, 1.0), (-0.25, 0.4), (-0.25, 0), (-0.25, -0.4), (-0.55, -1.0), (-0.1, -0.3), (0.55, 0)],
            [Path.MOVETO, Path.CURVE3, Path.CURVE3, Path.CURVE3, Path.CURVE3, Path.CURVE3, Path.CURVE3, Path.CURVE3, Path.CURVE3])
ax_b.plot(arrow_ends[1:], [arrow_level], marker=head, color=INK, ms=42, mew=0, ls="none", clip_on=False)
ax_b.plot(arrow_ends[:1], [arrow_level], marker=Path(head.vertices * [-1, 1], head.codes), color=INK, ms=42, mew=0, ls="none", clip_on=False)
put(2096, 5, "1:1", fontsize=38, va="baseline")
put(2093, 50, "-0.13", fontsize=38)
put(2573, 44, "2.02", fontsize=38)
put(2493, 1388, "Median(log$_{\\mathbf{2}}$[LFQ(1:1)-LFQ(1:4)])", fontsize=47.7)
put(1739, 563, "Median(log$_{\\mathbf{2}}$[LFQ(1:4)])", fontsize=47.6, rotation=90)

# panel C
ax_c = px_axes(338, 1452, 1723, 2500)
centers = (np.array(bin_edges[:-1]) + np.array(bin_edges[1:])) / 2
sns.histplot(x=centers, weights=bar_heights, bins=bin_edges, ax=ax_c, color=NAVY, edgecolor=INK, linewidth=4.2, alpha=1)
ax_c.set_xlim(-0.0017, 1.0022)
ax_c.set_ylim(0, max(bar_heights))
ax_c.set_xticks(cv_ticks, cv_tick_labels)
ax_c.set_yticks([])
ax_c.set_xlabel("")
ax_c.set_ylabel("")
style_axis(ax_c, lw=4.5, xtick=(6.5, 2.6), size=36, xpad=26)
put(1064, 1786, "Median coefficient of variation: 9.7 %", fontsize=48)
put(260, 1962, "Counts", fontsize=47, rotation=90)
put(1014, 2638, "Protein group level CV", fontsize=48)


# text block, justified word by word
def text_width(segments, renderer):
    total = 0
    for part, bold in segments:
        t = fig.text(0, 0, part, fontsize=46.5, fontweight="bold" if bold else "normal", fontstyle="italic" if bold else "normal")
        total += t.get_window_extent(renderer).width
        t.remove()
    return total


renderer = fig.canvas.get_renderer()
left_px, right_px = 1812, 3065
baseline = 1541
bold = False
for i, line in enumerate(text_lines):
    words = []
    for word in line.split(" "):
        segments = []
        for j, part in enumerate(word.split("*")):
            if j > 0:
                bold = not bold
            if part:
                segments.append((part, bold))
        words.append(segments)
    widths = [text_width(w, renderer) for w in words]
    gap = (right_px - left_px - sum(widths)) / (len(words) - 1)
    if i == len(text_lines) - 1:
        gap = 20
    x = left_px
    for segments, width in zip(words, widths):
        for part, is_bold in segments:
            t = put(x, baseline + i * 79.75, part, fontsize=46.5, ha="left", va="baseline",
                    fontweight="bold" if is_bold else "normal", fontstyle="italic" if is_bold else "normal")
            x += t.get_window_extent(renderer).width
        x += gap

fig.savefig("out.png", dpi=100, facecolor="white")
